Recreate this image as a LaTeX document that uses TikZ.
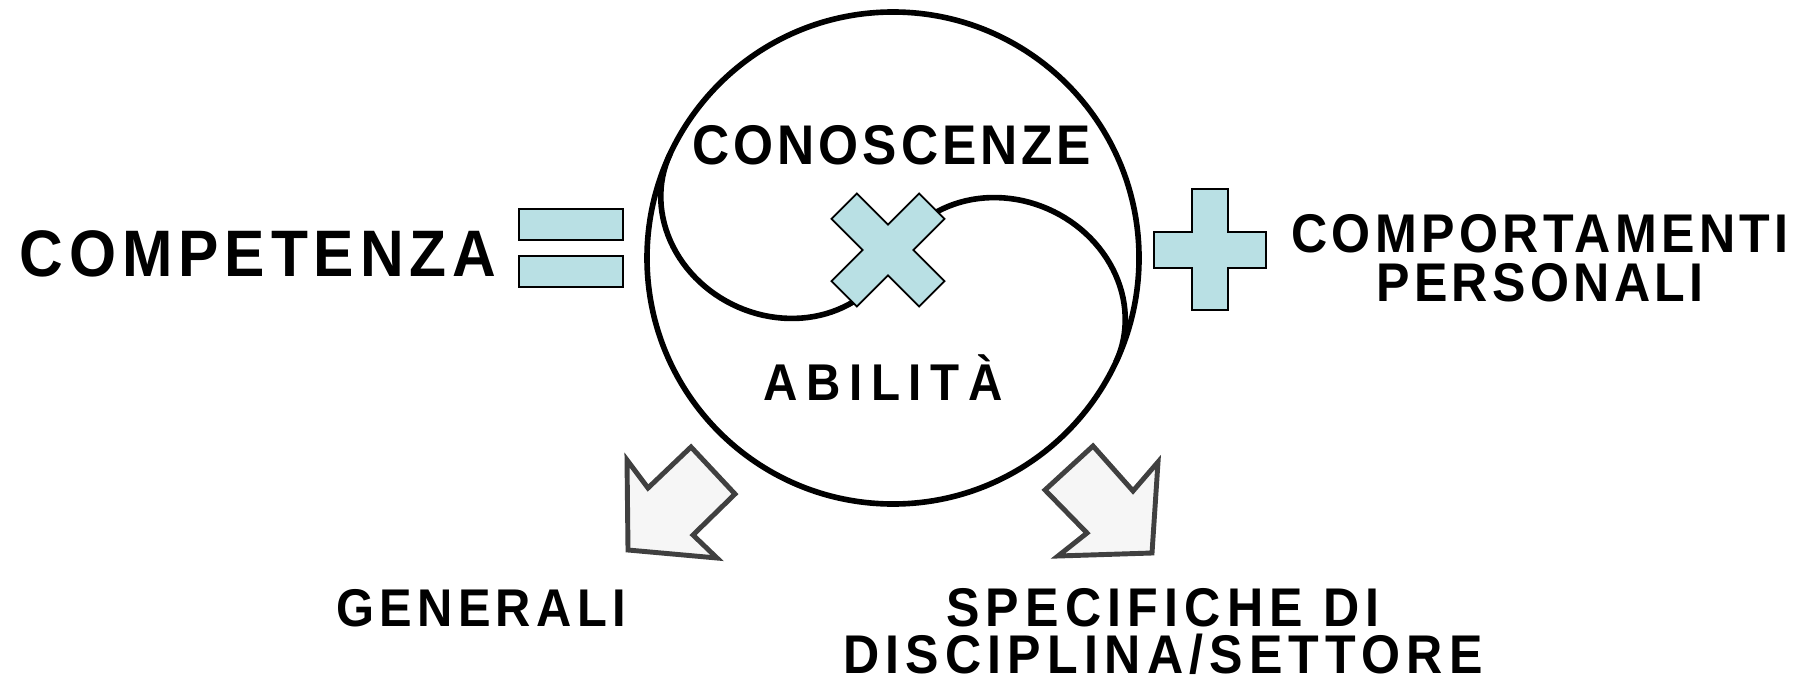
\documentclass[tikz,border=0pt]{standalone}
\usepackage{fontspec}
\setmainfont{Liberation Sans}
\usetikzlibrary{positioning}

\definecolor{paleblue}{RGB}{185,224,228}
\definecolor{arrowgray}{RGB}{64,64,64}
\definecolor{arrowfill}{RGB}{246,246,246}

\newcommand{\wsize}[3]{\fontsize{#1}{#2}\selectfont\addfontfeatures{FakeStretch=0.92,LetterSpace=#3}}

\tikzset{
  word/.style={inner sep=0pt, anchor=base, align=center},
  sign/.style={draw=black, fill=paleblue, line width=0.5pt},
  blockarrow/.style={draw=arrowgray, fill=arrowfill, line width=1.4pt, line join=miter},
  ring/.style={line width=1.6pt}
}

\begin{document}
\begin{tikzpicture}[x=0.01cm, y=-0.01cm]
  \useasboundingbox (0,0) rectangle (1807,679);

  % circle with the s-line
  \draw[ring] (893,258) circle [radius=246];
  \begin{scope}[shift={(893,258)}, rotate=-25]
    \draw[ring] plot[domain=180:0, samples=60] ({-123+123*cos(\x)}, {110*sin(\x)})
      -- plot[domain=180:360, samples=60] ({123+123*cos(\x)}, {110*sin(\x)});
  \end{scope}

  % times sign
  \begin{scope}[shift={(888,250)}, rotate=45]
    \draw[sign] (62,18) -- (18,18) -- (18,62) -- (-18,62) -- (-18,18) -- (-62,18)
      -- (-62,-18) -- (-18,-18) -- (-18,-62) -- (18,-62) -- (18,-18) -- (62,-18) -- cycle;
  \end{scope}

  % equals sign
  \draw[sign] (519,209) rectangle (623,240);
  \draw[sign] (519,256) rectangle (623,287);

  % plus sign
  \draw[sign] (1192,189) -- (1228,189) -- (1228,232) -- (1266,232) -- (1266,268) -- (1228,268)
    -- (1228,310) -- (1192,310) -- (1192,268) -- (1154,268) -- (1154,232) -- (1192,232) -- cycle;

  % block arrows
  \draw[blockarrow] (628,550) -- (627,460) -- (648,488) -- (691,447) -- (735,494) -- (693,535) -- (717,558) -- cycle;
  \draw[blockarrow] (1152,553) -- (1158,462) -- (1133,491) -- (1093,446) -- (1045,490) -- (1087,533) -- (1058,556) -- cycle;

  % labels
  \node[word, font=\bfseries\wsize{18.7}{20}{9}] (competenza) at (258,276) {COMPETENZA};
  \node[word, font=\bfseries\wsize{15.9}{18}{7}] (conoscenze) at (892,165) {CONOSCENZE};
  \node[word, font=\bfseries\wsize{14.7}{18}{16.5}] (abilita) at (883,400) {ABILITÀ};
  \node[word, font=\bfseries\wsize{15.5}{13.8}{8}] (comportamenti) at (1540,301) {COMPORTAMENTI\\PERSONALI};
  \node[word, font=\bfseries\wsize{15.1}{18}{10}] (generali) at (481,626) {GENERALI};
  \node[word, font=\bfseries\wsize{15.5}{13.3}{11.4}] (specifiche) at (1163,673) {SPECIFICHE DI\\DISCIPLINA/SETTORE};
\end{tikzpicture}
\end{document}
